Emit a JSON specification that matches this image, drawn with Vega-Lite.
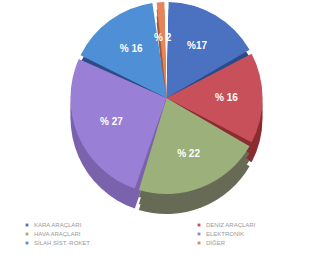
{
  "$schema": "https://vega.github.io/schema/vega-lite/v6.json",
  "width": 333,
  "height": 196,
  "autosize": "none",
  "padding": {"left": 0, "top": 0, "right": 0, "bottom": 71},
  "background": "white",
  "config": {"view": {"stroke": null}},
  "data": {"values": [
    {"k": "KARA ARAÇLARI", "v": 17, "o": 1, "lab": "%17"},
    {"k": "DENİZ ARAÇLARI", "v": 16, "o": 2, "lab": "% 16"},
    {"k": "HAVA ARAÇLARI", "v": 22, "o": 3, "lab": "% 22"},
    {"k": "ELEKTRONİK", "v": 27, "o": 4, "lab": "% 27"},
    {"k": "SİLAH SİST.-ROKET", "v": 16, "o": 5, "lab": "% 16"},
    {"k": "DİĞER", "v": 2, "o": 6, "lab": "% 2"}
  ]},
  "encoding": {
    "theta": {"field": "v", "type": "quantitative", "stack": true},
    "order": {"field": "o", "type": "quantitative"}
  },
  "layer": [
    {
      "mark": {"type": "arc", "outerRadius": 96, "padAngle": 0.045, "yOffset": 20},
      "encoding": {"color": {"field": "k", "type": "nominal", "sort": null, "legend": null,
        "scale": {"domain": ["KARA ARAÇLARI", "HAVA ARAÇLARI", "SİLAH SİST.-ROKET", "DENİZ ARAÇLARI", "ELEKTRONİK", "DİĞER"],
          "range": ["#2a4a8a", "#676b55", "#2b4c86", "#8a2c30", "#7a62ad", "#a0583a"]}}}
    },
    {
      "mark": {"type": "arc", "outerRadius": 96, "padAngle": 0.045, "yOffset": 14},
      "encoding": {"color": {"field": "k", "type": "nominal", "sort": null, "legend": null,
        "scale": {"domain": ["KARA ARAÇLARI", "HAVA ARAÇLARI", "SİLAH SİST.-ROKET", "DENİZ ARAÇLARI", "ELEKTRONİK", "DİĞER"],
          "range": ["#2a4a8a", "#676b55", "#2b4c86", "#8a2c30", "#7a62ad", "#a0583a"]}}}
    },
    {
      "mark": {"type": "arc", "outerRadius": 96, "padAngle": 0.045, "yOffset": 7},
      "encoding": {"color": {"field": "k", "type": "nominal", "sort": null, "legend": null,
        "scale": {"domain": ["KARA ARAÇLARI", "HAVA ARAÇLARI", "SİLAH SİST.-ROKET", "DENİZ ARAÇLARI", "ELEKTRONİK", "DİĞER"],
          "range": ["#2a4a8a", "#676b55", "#2b4c86", "#8a2c30", "#7a62ad", "#a0583a"]}}}
    },
    {
      "mark": {"type": "arc", "outerRadius": 96, "padAngle": 0.045},
      "encoding": {"color": {"field": "k", "type": "nominal", "sort": null,
        "scale": {"domain": ["KARA ARAÇLARI", "HAVA ARAÇLARI", "SİLAH SİST.-ROKET", "DENİZ ARAÇLARI", "ELEKTRONİK", "DİĞER"],
          "range": ["#4a72c0", "#9bb07a", "#4f8fd6", "#c8505a", "#9a7fd6", "#e8845a"]},
        "legend": {"title": null, "orient": "none", "legendX": 24, "legendY": 222, "columns": 2,
          "columnPadding": 105, "rowPadding": 3, "symbolType": "square", "symbolSize": 8,
          "labelFontSize": 6, "labelColor": "#999", "labelFont": "Liberation Sans", "symbolStrokeWidth": 0}}}
    },
    {
      "mark": {"type": "text", "radius": 60, "color": "white", "fontSize": 10, "fontWeight": "bold", "font": "Liberation Sans"},
      "encoding": {"text": {"field": "lab"}}
    }
  ],
  "resolve": {"scale": {"color": "independent"}}
}
